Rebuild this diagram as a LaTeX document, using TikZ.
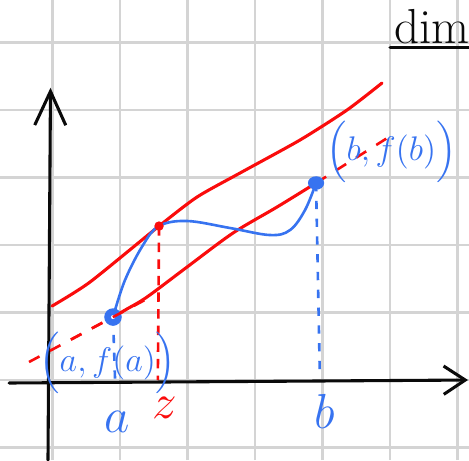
\documentclass[tikz,border=0pt]{standalone}
\usepackage{amsmath}
\usepackage{xcolor}
\usepackage{tikz}
\usetikzlibrary{positioning,arrows.meta,calc}
\definecolor{inkc}{RGB}{10,10,10}
\definecolor{redc}{RGB}{250,12,12}
\definecolor{bluec}{RGB}{55,115,240}
\definecolor{gridc}{RGB}{212,212,212}
\tikzset{
  paper/.style    = {draw=gridc, line width=0.9pt},
  axis/.style     = {draw=inkc, line width=1.3pt, line cap=round},
  redline/.style  = {draw=redc, line width=1.3pt, line cap=round},
  reddash/.style  = {draw=redc, line width=1.1pt, dash pattern=on 5pt off 5pt},
  bluecurve/.style= {draw=bluec, line width=1.1pt, line cap=round},
  bluedash/.style = {draw=bluec, line width=1.1pt, dash pattern=on 3.5pt off 4pt},
  bluelbl/.style  = {text=bluec, font=\huge, inner sep=1pt},
  redlbl/.style   = {text=redc, font=\huge, inner sep=1pt},
  ptlbl/.style    = {text=bluec, font=\fontsize{13.5}{15}\selectfont, inner sep=0pt},
}

\begin{document}
\begin{tikzpicture}
\useasboundingbox (-0.778,-1.185) rectangle (6.170,5.630);

% --- squared paper ------------------------------------------------------
\draw[paper] (-0.778,-1.185) grid (6.170,5.630);

% --- axes ---------------------------------------------------------------
\coordinate (xstart) at (-0.644,-0.044);
\coordinate (xend) at (6.156,0);
\coordinate (ystart) at (-0.067,-1.185);
\coordinate (yend) at (-0.03,4.33);
\draw[axis, -{Straight Barb[length=3.2mm, width=4.2mm]}] (xstart) -- (xend);
\draw[axis, -{Straight Barb[length=5mm, width=4.6mm]}] (ystart) -- (yend);

% --- the points ---------------------------------------------------------
\coordinate (A) at (0.896,0.933);
\coordinate (Z) at (1.578,2.281);
\coordinate (B) at (3.904,2.919);
\coordinate (Ax) at (0.93,-0.1);
\coordinate (Zx) at (1.56,0);
\coordinate (Bx) at (3.96,0.07);

% --- the two parallel red lines -------------------------------------------
\draw[redline] plot[smooth, tension=0.4] coordinates
  {(-0.007,1.096) (0.556,1.452) (Z) (2.141,2.711) (2.778,3.067)
   (3.667,3.556) (4.363,4.0) (4.881,4.4)};
\draw[redline] plot[smooth, tension=0.5] coordinates
  {(A) (1.099,1.05) (1.4,1.23) (1.993,1.674) (2.674,2.178) (3.326,2.563) (B)};
\draw[reddash] (-0.348,0.267) -- (A);
\draw[reddash] (B) -- (5.03,3.63);

% --- f between a and b --------------------------------------------------
\draw[bluecurve] plot[smooth, tension=0.6] coordinates
  {(A) (1.074,1.481) (1.341,2.0) (Z) (1.993,2.356) (2.63,2.252)
   (3.222,2.148) (3.519,2.222) (3.741,2.519) (B)};
\draw[bluedash] (A) -- (Ax);
\draw[bluedash] (B) -- (Bx);
\draw[reddash, dash pattern=on 4pt off 3pt] (Z) -- (Zx);
\fill[bluec] (A) circle (0.13);
\fill[white] (A) circle (0.03);
\fill[bluec] (B) ellipse (0.12 and 0.1);
\fill[redc] (Z) circle (0.07);
\draw[reddash] ($(A)!0.5!(-0.348,0.267)$) -- ($(A)!-0.4!(-0.348,0.267)$);

% --- labels -------------------------------------------------------------
\node[bluelbl] (la) at (0.956,-0.62) {$a$};
\node[redlbl] (lz) at (1.667,-0.42) {$z$};
\node[bluelbl] (lb) at (4.04,-0.47) {$b$};
\node[ptlbl] (lfa) at (0.82,0.25) {$\Bigl(a,f(a)\Bigr)$};
\node[ptlbl] (lfb) at (5.02,3.38) {$\Bigl(b,f(b)\Bigr)$};
\node[font=\huge, text=inkc, anchor=base west, inner sep=1.5pt] (title) at (5.0,4.99) {dim};
\draw[axis] (title.south west) -- (title.south east);

\end{tikzpicture}
\end{document}
